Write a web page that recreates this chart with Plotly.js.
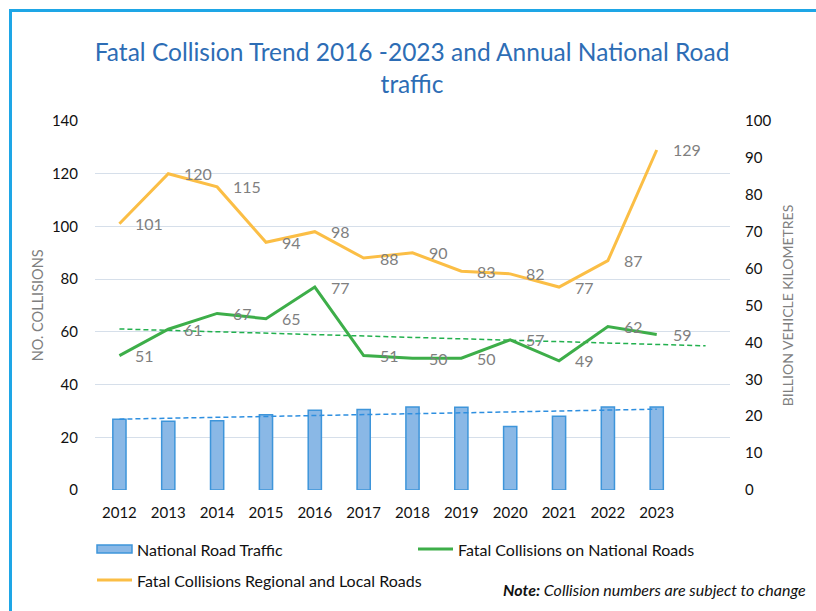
<!DOCTYPE html>
<html>
<head>
<meta charset="utf-8">
<script src="https://cdn.plot.ly/plotly-3.0.1.min.js"></script>
<style>
  html, body { margin: 0; padding: 0; background: #ffffff; }
  #wrap { position: relative; width: 816px; height: 611px; }
  #chart { position: absolute; left: 0; top: 0; width: 816px; height: 611px; }
  #frame { position: absolute; left: 9px; top: 9px; width: 820px; height: 620px;
           border-left: 3px solid #1EA6E6; border-top: 3px solid #1EA6E6; pointer-events: none; }
</style>
</head>
<body>
<div id="wrap">
  <div id="chart"></div>
  <div id="frame"></div>
</div>
<script>
// ---- data ----
const years = [2012, 2013, 2014, 2015, 2016, 2017, 2018, 2019, 2020, 2021, 2022, 2023];
const nationalTraffic = [19.2, 18.6, 18.8, 20.4, 21.6, 21.8, 22.5, 22.4, 17.2, 20.0, 22.5, 22.5]; // billion vehicle km
const fatalNational = [51, 61, 67, 65, 77, 51, 50, 50, 57, 49, 62, 59];
const fatalRegionalLocal = [101, 120, 115, 94, 98, 88, 90, 83, 82, 77, 87, 129];
// trend lines (endpoints)
const trafficTrendX = [2012, 2023];
const trafficTrendY = [19.2, 21.9];
const nationalTrendX = [2012, 2024];
const nationalTrendY = [61.1, 54.7];
const leftTicks = [0, 20, 40, 60, 80, 100, 120, 140];
const rightTicks = [0, 10, 20, 30, 40, 50, 60, 70, 80, 90, 100];

const FONT = 'Lato, "Open Sans", sans-serif';
const ORANGE = '#FBBE45';
const GREEN = '#3DAE49';
const LABEL = '#7F7F7F';

const traces = [
  {
    type: 'bar', x: years, y: nationalTraffic, yaxis: 'y2', width: 0.27,
    name: 'National Road Traffic',
    marker: { color: '#8AB8E6', line: { color: '#3E95DA', width: 1.5 } },
    showlegend: false, hoverinfo: 'x+y'
  },
  {
    type: 'scatter', mode: 'lines', x: trafficTrendX, y: trafficTrendY, yaxis: 'y2',
    line: { color: '#2E8FE0', width: 1.5, dash: '5px,3px' }, showlegend: false, hoverinfo: 'skip'
  },
  {
    type: 'scatter', mode: 'lines', x: nationalTrendX, y: nationalTrendY,
    line: { color: '#22B04E', width: 1.5, dash: '5px,3px' }, showlegend: false, hoverinfo: 'skip'
  },
  {
    type: 'scatter', mode: 'lines', x: years, y: fatalNational,
    name: 'Fatal Collisions on National Roads',
    line: { color: GREEN, width: 3 }, showlegend: false
  },
  {
    type: 'scatter', mode: 'lines', x: years, y: fatalRegionalLocal,
    name: 'Fatal Collisions Regional and Local Roads',
    line: { color: ORANGE, width: 3 }, showlegend: false
  }
];

const annotations = [];
function addLabels(xs, ys) {
  xs.forEach((x, i) => {
    annotations.push({
      x: x, y: ys[i], xref: 'x', yref: 'y', text: String(ys[i]),
      showarrow: false, xanchor: 'left', yanchor: 'middle', xshift: 14,
      font: { family: FONT, size: 16, color: LABEL }
    });
  });
}
addLabels(years, fatalRegionalLocal);
addLabels(years, fatalNational);

// axis titles
annotations.push({
  xref: 'paper', yref: 'paper', x: -0.09, y: 0.5, text: 'NO. COLLISIONS', textangle: -90,
  showarrow: false, xanchor: 'center', yanchor: 'middle',
  font: { family: FONT, size: 14.5, color: '#7F7F7F' }
});
annotations.push({
  xref: 'paper', yref: 'paper', x: 1.091, y: 0.5, text: 'BILLION VEHICLE KILOMETRES', textangle: -90,
  showarrow: false, xanchor: 'center', yanchor: 'middle',
  font: { family: FONT, size: 14, color: '#7F7F7F' }
});

// custom legend
const px = v => (v - 95) / 635;      // page x -> paper x
const py = v => (490 - v) / 369;     // page y -> paper y
const legendItems = [
  { kind: 'bar', x0: 97, y: 549, text: 'National Road Traffic', color: '#8AB8E6', line: '#3E95DA' },
  { kind: 'line', x0: 418, y: 549, text: 'Fatal Collisions on National Roads', color: GREEN },
  { kind: 'line', x0: 97, y: 580, text: 'Fatal Collisions Regional and Local Roads', color: ORANGE }
];
const shapes = [];
legendItems.forEach(it => {
  if (it.kind === 'bar') {
    shapes.push({ type: 'rect', xref: 'paper', yref: 'paper', x0: px(it.x0), x1: px(it.x0 + 35),
      y0: py(it.y + 4), y1: py(it.y - 4), fillcolor: it.color, line: { color: it.line, width: 1.5 } });
  } else {
    shapes.push({ type: 'line', xref: 'paper', yref: 'paper', x0: px(it.x0), x1: px(it.x0 + 35),
      y0: py(it.y), y1: py(it.y), line: { color: it.color, width: 3 } });
  }
  annotations.push({ xref: 'paper', yref: 'paper', x: px(it.x0 + 38), y: py(it.y), text: it.text,
    showarrow: false, xanchor: 'left', yanchor: 'middle',
    font: { family: FONT, size: 16, color: '#111111' } });
});
annotations.push({ xref: 'paper', yref: 'paper', x: px(808), y: py(589),
  text: '<b><i>Note:</i></b><i> Collision numbers are subject to change</i>',
  showarrow: false, xanchor: 'right', yanchor: 'middle',
  font: { family: FONT, size: 16, color: '#111111' } });

const layout = {
  width: 816, height: 611,
  margin: { l: 95, r: 86, t: 121, b: 121, pad: 0 },
  paper_bgcolor: '#FFFFFF', plot_bgcolor: '#FFFFFF',
  font: { family: FONT, color: '#111111' },
  title: {
    text: 'Fatal Collision Trend 2016 -2023 and Annual National Road<br>traffic',
    x: 0.505, xanchor: 'center', xref: 'container',
    y: 1 - 61 / 611, yanchor: 'middle', yref: 'container',
    font: { family: FONT, size: 24.5, color: '#2D6DB5' }
  },
  showlegend: false,
  xaxis: {
    type: 'linear', range: [2011.5, 2024.5], tickvals: years, ticktext: years.map(String),
    showgrid: false, zeroline: false, showline: false, ticks: '',
    tickfont: { family: FONT, size: 15, color: '#111111' }, ticklabelstandoff: 12
  },
  yaxis: {
    range: [0, 140], tickvals: leftTicks, showgrid: true, gridcolor: '#D6DFEA', gridwidth: 1,
    zeroline: false, showline: false, ticks: '',
    tickfont: { family: FONT, size: 15, color: '#111111' }, ticklabelstandoff: 16
  },
  yaxis2: {
    range: [0, 100], tickvals: rightTicks, overlaying: 'y', side: 'right', showgrid: false,
    zeroline: false, showline: false, ticks: '',
    tickfont: { family: FONT, size: 15, color: '#111111' }, ticklabelstandoff: 14
  },
  annotations: annotations,
  shapes: shapes
};

Plotly.newPlot('chart', traces, layout, { displayModeBar: false, staticPlot: true });
</script>
</body>
</html>
